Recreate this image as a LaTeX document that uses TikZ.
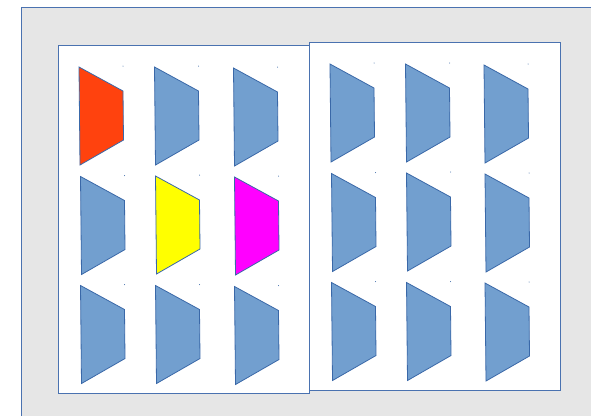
\documentclass[tikz,border=0pt]{standalone}
\usepackage{tikz}
\usetikzlibrary{calc}

\definecolor{fondgris}{HTML}{E6E6E6}
\definecolor{cadrebleu}{HTML}{4A72B0}
\definecolor{bordbleu}{HTML}{3A68A8}
\definecolor{bleuclair}{HTML}{729FCF}
\definecolor{orangerouge}{HTML}{FF420E}
\definecolor{jaunevif}{RGB}{255,255,0}
\definecolor{fuchsia}{RGB}{255,0,255}

\begin{document}
\begin{tikzpicture}[x=1pt, y=-1pt,
  feuille/.style={draw=cadrebleu, fill=white, line width=0.9pt},
  trapeze/.pic={
    \draw[pic actions] (0,0) -- (44,24) -- (44.5,73) -- (1,98) -- cycle;
    \fill[bordbleu] (44,-1) circle (0.5);
  },
  forme/.style={draw=bordbleu, line width=0.8pt, fill=bleuclair}
]
  \useasboundingbox (0,0) rectangle (591,416);

  %=========================================================
  % 1. Fond gris avec son bord haut et gauche
  %=========================================================
  \fill[fondgris] (21.5,7.5) rectangle (591,416);
  \draw[cadrebleu, line width=0.9pt] (21.5,416) -- (21.5,7.5) -- (591,7.5);

  %=========================================================
  % 2. Feuille de gauche (trois formes en couleur)
  %=========================================================
  \draw[feuille] (58.5,45.5) rectangle (309.5,393.5);

  \pic[forme, fill=orangerouge] at (79,67)    {trapeze};
  \pic[forme]                   at (154.5,67) {trapeze};
  \pic[forme]                   at (233.5,68) {trapeze};

  \pic[forme]                   at (80.5,176.5)  {trapeze};
  \pic[forme, fill=jaunevif]    at (155.5,176)   {trapeze};
  \pic[forme, fill=fuchsia]     at (234.5,177)   {trapeze};

  \pic[forme]                   at (80.5,285.5)  {trapeze};
  \pic[forme]                   at (155.5,285.5) {trapeze};
  \pic[forme]                   at (234.5,286.5) {trapeze};

  %=========================================================
  % 3. Feuille de droite, posee par-dessus
  %=========================================================
  \draw[feuille] (309.5,42.5) rectangle (560.5,390.5);

  \pic[forme] at (330,64)     {trapeze};
  \pic[forme] at (405.5,64)   {trapeze};
  \pic[forme] at (484,65)     {trapeze};

  \pic[forme] at (331.5,173.5) {trapeze};
  \pic[forme] at (406.5,173)   {trapeze};
  \pic[forme] at (485,174)     {trapeze};

  \pic[forme] at (331.5,282.5) {trapeze};
  \pic[forme] at (406.5,282.5) {trapeze};
  \pic[forme] at (485,283)     {trapeze};

\end{tikzpicture}
\end{document}
